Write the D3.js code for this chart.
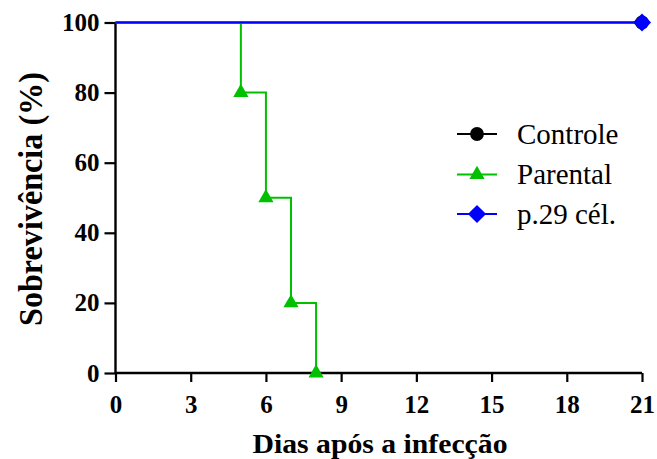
<!DOCTYPE html>
<html><head><meta charset="utf-8">
<script src="https://cdn.jsdelivr.net/npm/d3@7"></script>
<style>body{margin:0;background:#fff}svg{display:block}</style>
</head><body>
<svg id="c" width="657" height="459"></svg>
<script>
const xTicks = [0,3,6,9,12,15,18,21];
const yTicks = [0,20,40,60,80,100];
const seriesNames = ["Controle","Parental","p.29 cél."];
const seriesColors = ["#000000","#00C000","#0000FF"];
const controleDays = [0,21];
const controleSurv = [100,100];
const parentalDays = [0,5,6,7,8];
const parentalSurv = [100,80,50,20,0];
const p29Days = [0,21];
const p29Surv = [100,100];

const FONT = "Liberation Serif";
const svg = d3.select("#c");
const x = d3.scaleLinear().domain([0,21]).range([115.5,642]);
const y = d3.scaleLinear().domain([0,100]).range([373,22.5]);

// axes
const xAxis = svg.append("g").attr("transform","translate(0,373)")
  .call(d3.axisBottom(x).tickValues(xTicks).tickSize(9).tickPadding(13));
const yAxis = svg.append("g").attr("transform","translate(115.5,0)")
  .call(d3.axisLeft(y).tickValues(yTicks).tickSize(11).tickPadding(5));
[xAxis,yAxis].forEach(a=>{
  a.attr("font-family",FONT).attr("font-size",25).attr("font-weight","bold");
  a.select(".domain").attr("stroke","#000").attr("stroke-width",2.4);
  a.selectAll(".tick line").attr("stroke","#000").attr("stroke-width",2.2);
  a.selectAll(".tick text").attr("fill","#000");
});
xAxis.select(".domain").attr("d",`M${x(0)},0H${x(21)}`);
yAxis.select(".domain").attr("d",`M0,${y(0)}V${y(100)}`);

// step lines
const step = d3.line().x(d=>x(d[0])).y(d=>y(d[1])).curve(d3.curveStepAfter);
function drawSeries(days, surv, color){
  const pts = days.map((d,i)=>[d,surv[i]]);
  svg.append("path").datum(pts).attr("d",step).attr("fill","none")
    .attr("stroke",color).attr("stroke-width",2);
  return pts;
}
const cPts = drawSeries(controleDays, controleSurv, seriesColors[0]);
const pPts = drawSeries(parentalDays, parentalSurv, seriesColors[1]);
const bPts = drawSeries(p29Days, p29Surv, seriesColors[2]);

const circ = d3.symbol().type(d3.symbolCircle).size(150);
const tri = d3.symbol().type(d3.symbolTriangle).size(100);
const dia = d3.symbol().type(d3.symbolSquare).size(165);

svg.selectAll(".cm").data(cPts.slice(1)).join("path").attr("d",circ)
  .attr("transform",d=>`translate(${x(d[0])},${y(d[1])})`).attr("fill",seriesColors[0]);
svg.selectAll(".pm").data(pPts.slice(1)).join("path").attr("d",tri)
  .attr("transform",d=>`translate(${x(d[0])},${y(d[1])})`).attr("fill",seriesColors[1]);
svg.selectAll(".bm").data(bPts.slice(1)).join("path").attr("d",dia)
  .attr("transform",d=>`translate(${x(d[0])},${y(d[1])}) rotate(45)`).attr("fill",seriesColors[2]);

// legend
const syms = [circ,tri,dia];
const rots = [0,0,45];
const ly = [134,174.5,214];
seriesNames.forEach((n,i)=>{
  const g = svg.append("g").attr("transform",`translate(457,${ly[i]})`);
  g.append("line").attr("x1",0).attr("x2",40).attr("stroke",seriesColors[i]).attr("stroke-width",2);
  g.append("path").attr("d",syms[i]).attr("transform",`translate(20,0) rotate(${rots[i]})`).attr("fill",seriesColors[i]);
  g.append("text").attr("x",60).attr("y",0).attr("dy","0.34em")
    .attr("font-family",FONT).attr("font-size",29).attr("fill","#000").text(n);
});

// axis titles
svg.append("text").attr("x",380).attr("y",453).attr("text-anchor","middle")
  .attr("font-family",FONT).attr("font-size",28).attr("font-weight","bold")
  .attr("textLength",255).attr("lengthAdjust","spacingAndGlyphs").text("Dias após a infecção");
svg.append("text").attr("transform","translate(42,199) rotate(-90)").attr("text-anchor","middle")
  .attr("font-family",FONT).attr("font-size",33).attr("font-weight","bold")
  .attr("textLength",254).attr("lengthAdjust","spacingAndGlyphs").text("Sobrevivência (%)");
</script>
</body></html>
